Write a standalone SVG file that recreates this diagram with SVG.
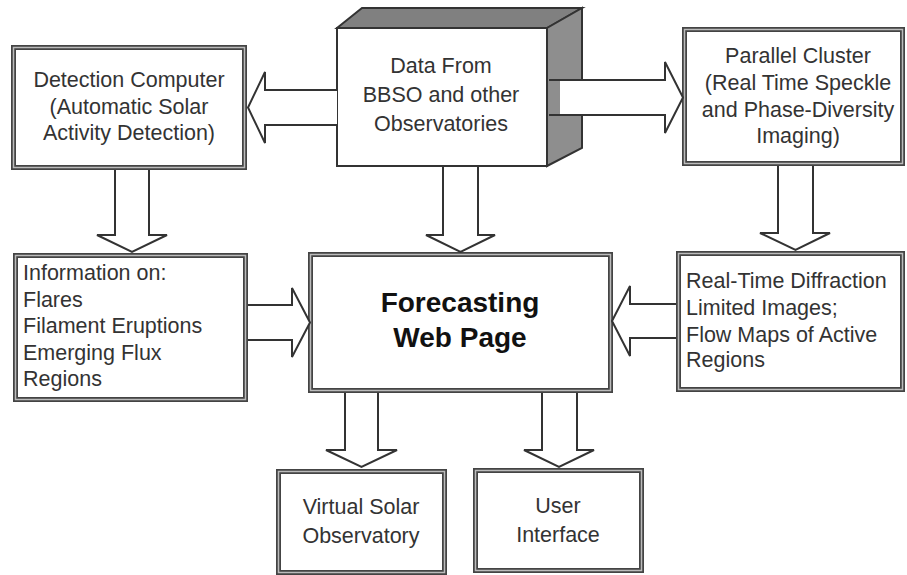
<svg xmlns="http://www.w3.org/2000/svg" width="907" height="575" viewBox="0 0 907 575">
<style>
.bo{fill:#fff;stroke:#444;stroke-width:5}
.bi{fill:none;stroke:#bbb;stroke-width:1.5}
.t{font-family:"Liberation Sans",Arial,sans-serif;font-size:21.5px;fill:#333}
.c{text-anchor:middle}
.b{font-family:"Liberation Sans",Arial,sans-serif;font-size:28px;font-weight:bold;fill:#111;text-anchor:middle}
.af{fill:#fff;stroke:none}
.al{fill:none;stroke:#333;stroke-width:2;stroke-linejoin:miter}
</style>
<rect width="907" height="575" fill="#fff"/>
<g id="detection">
<rect class="bo" x="13.5" y="47.5" width="231" height="120"/>
<rect class="bi" x="13.5" y="47.5" width="231" height="120"/>
<text class="t c" x="129" y="87">Detection Computer</text>
<text class="t c" x="129" y="114">(Automatic Solar</text>
<text class="t c" x="129" y="140">Activity Detection)</text>
</g>
<g id="data">
<polygon points="337,28 362,8 582,8 547,28" fill="#808080" stroke="#333" stroke-width="2"/>
<polygon points="547,28 582,8 582,148 547,166" fill="#8e8e8e" stroke="#333" stroke-width="2"/>
<rect x="337" y="28" width="210" height="138" fill="#fff" stroke="#333" stroke-width="2"/>
<text class="t c" x="441" y="73">Data From</text>
<text class="t c" x="441" y="102">BBSO and other</text>
<text class="t c" x="441" y="131">Observatories</text>
</g>
<g id="parallel">
<rect class="bo" x="684.5" y="29.5" width="218" height="134"/>
<rect class="bi" x="684.5" y="29.5" width="218" height="134"/>
<text class="t c" x="798" y="63">Parallel Cluster</text>
<text class="t c" x="798" y="90">(Real Time Speckle</text>
<text class="t c" x="798" y="117">and Phase-Diversity</text>
<text class="t c" x="798" y="143">Imaging)</text>
</g>
<g id="info">
<rect class="bo" x="15.5" y="255.5" width="230" height="144"/>
<rect class="bi" x="15.5" y="255.5" width="230" height="144"/>
<text class="t" x="23" y="280">Information on:</text>
<text class="t" x="23" y="307">Flares</text>
<text class="t" x="23" y="333">Filament Eruptions</text>
<text class="t" x="23" y="360">Emerging Flux</text>
<text class="t" x="23" y="386">Regions</text>
</g>
<g id="forecasting">
<rect class="bo" x="310.5" y="254.5" width="300" height="136"/>
<rect class="bi" x="310.5" y="254.5" width="300" height="136"/>
<text class="b" x="460" y="312">Forecasting</text>
<text class="b" x="460" y="347">Web Page</text>
</g>
<g id="realtime">
<rect class="bo" x="678.5" y="253.5" width="224" height="136"/>
<rect class="bi" x="678.5" y="253.5" width="224" height="136"/>
<text class="t" x="686" y="288">Real-Time Diffraction</text>
<text class="t" x="686" y="315">Limited Images;</text>
<text class="t" x="686" y="342">Flow Maps of Active</text>
<text class="t" x="686" y="367">Regions</text>
</g>
<g id="virtual">
<rect class="bo" x="278.5" y="471.5" width="166" height="101"/>
<rect class="bi" x="278.5" y="471.5" width="166" height="101"/>
<text class="t c" x="361" y="514">Virtual Solar</text>
<text class="t c" x="361" y="543">Observatory</text>
</g>
<g id="user">
<rect class="bo" x="475.5" y="470.5" width="166" height="100"/>
<rect class="bi" x="475.5" y="470.5" width="166" height="100"/>
<text class="t c" x="558" y="513">User</text>
<text class="t c" x="558" y="542">Interface</text>
</g>
<g id="connectors">
<!-- Data -> Detection -->
<polygon class="af" points="337,90 265,90 265,72 248,107.5 265,143 265,125 337,125"/>
<path class="al" d="M337,90 H265 V72 L248,107.5 L265,143 V125 H337"/>
<!-- Data -> Parallel -->
<polygon class="af" points="560,80 665,80 665,62 683,97.5 665,133 665,115 560,115"/>
<path class="al" d="M549,80 H665 V62 L683,97.5 L665,133 V115 H549"/>
<!-- Data -> Forecasting -->
<polygon class="af" points="443,167 443,235 426,235 460.5,252 495,235 478,235 478,167"/>
<path class="al" d="M443,167 V235 H426 L460.5,252 L495,235 H478 V167"/>
<!-- Detection -> Info -->
<polygon class="af" points="115,170 115,235 97,235 132,252 167,235 149,235 149,170"/>
<path class="al" d="M115,170 V235 H97 L132,252 L167,235 H149 V170"/>
<!-- Parallel -> RealTime -->
<polygon class="af" points="778,166 778,233 760,233 795.5,250 830,233 813,233 813,166"/>
<path class="al" d="M778,166 V233 H760 L795.5,250 L830,233 H813 V166"/>
<!-- Info -> Forecasting -->
<polygon class="af" points="248,305 292,305 292,288 310,322.5 292,357 292,340 248,340"/>
<path class="al" d="M248,305 H292 V288 L310,322.5 L292,357 V340 H248"/>
<!-- RealTime -> Forecasting -->
<polygon class="af" points="676,304 630,304 630,286 612,321 630,356 630,338 676,338"/>
<path class="al" d="M676,304 H630 V286 L612,321 L630,356 V338 H676"/>
<!-- Forecasting -> Virtual -->
<polygon class="af" points="345,393 345,450 326,450 361.5,467 397,450 378,450 378,393"/>
<path class="al" d="M345,393 V450 H326 L361.5,467 L397,450 H378 V393"/>
<!-- Forecasting -> User -->
<polygon class="af" points="542,393 542,450 524,450 559,467 594,450 577,450 577,393"/>
<path class="al" d="M542,393 V450 H524 L559,467 L594,450 H577 V393"/>
</g>
</svg>
